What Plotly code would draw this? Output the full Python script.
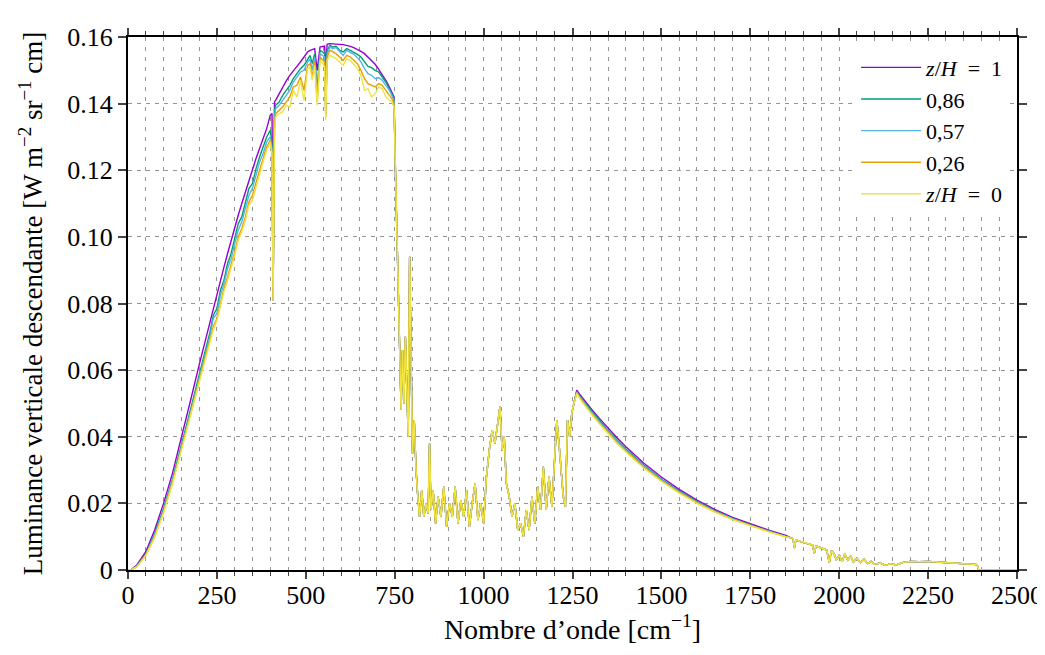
import plotly.graph_objects as go

# ---------------- data ----------------
series_names = ["<i>z</i>/<i>H</i>\u2002=\u20021", "0,86", "0,57", "0,26", "<i>z</i>/<i>H</i>\u2002=\u20020"]
series_colors = ["#9400D3", "#009E73", "#56B4E9", "#E69F00", "#F0E442"]

# region 1 : 0 - 760 cm-1 (series differ)
wn_low = [0, 10, 25, 50, 75, 100, 125, 150, 175, 200, 215, 230, 240, 250, 260, 270, 280, 290,
          300, 310, 320, 330, 340, 350, 360, 370, 380, 390, 400, 405, 408, 412, 415, 425, 435,
          445, 455, 465, 475, 485, 495, 505, 512, 518, 525, 532, 540, 548, 553, 556, 560, 568,
          575, 585, 595, 605, 615, 625, 635, 645, 655, 665, 675, 685, 695, 705, 715, 725, 735,
          742, 748, 752, 756, 760]
low_z100 = [0.0, 0.0002, 0.0015, 0.0055, 0.0120, 0.0200, 0.0290, 0.0395, 0.0505, 0.0615, 0.0680,
            0.0745, 0.0785, 0.0830, 0.0870, 0.0910, 0.0950, 0.0990, 0.1030, 0.1065, 0.1100, 0.1135,
            0.1170, 0.1205, 0.1235, 0.1265, 0.1295, 0.1325, 0.1365, 0.1370, 0.0810, 0.1405, 0.1410,
            0.1430, 0.1450, 0.1468, 0.1485, 0.1500, 0.1512, 0.1525, 0.1540, 0.1555, 0.1560, 0.1562,
            0.1565, 0.1500, 0.1570, 0.1572, 0.1573, 0.1510, 0.1578, 0.1580, 0.1580, 0.1580, 0.1578,
            0.1577, 0.1575, 0.1572, 0.1568, 0.1563, 0.1557, 0.1550, 0.1540, 0.1530, 0.1518, 0.1503,
            0.1488, 0.1470, 0.1450, 0.1435, 0.1420, 0.1200, 0.1000, 0.0800]
low_z086 = [0.0, 0.0001, 0.0012, 0.0048, 0.0108, 0.0185, 0.0272, 0.0372, 0.0478, 0.0585, 0.0648,
            0.0712, 0.0765, 0.0785, 0.0840, 0.0870, 0.0920, 0.0950, 0.0995, 0.1040, 0.1060, 0.1100,
            0.1145, 0.1160, 0.1205, 0.1240, 0.1270, 0.1300, 0.1320, 0.1280, 0.0810, 0.1380, 0.1395,
            0.1405, 0.1425, 0.1440, 0.1455, 0.1475, 0.1490, 0.1505, 0.1515, 0.1535, 0.1545, 0.1520,
            0.1550, 0.1440, 0.1560, 0.1555, 0.1550, 0.1380, 0.1560, 0.1575, 0.1570, 0.1572, 0.1560,
            0.1555, 0.1565, 0.1560, 0.1555, 0.1548, 0.1540, 0.1525, 0.1512, 0.1508, 0.1500, 0.1495,
            0.1480, 0.1465, 0.1445, 0.1430, 0.1415, 0.1200, 0.1000, 0.0800]
low_z057 = [0.0, 0.0001, 0.0011, 0.0046, 0.0104, 0.0180, 0.0267, 0.0366, 0.0470, 0.0575, 0.0640,
            0.0700, 0.0755, 0.0770, 0.0825, 0.0860, 0.0905, 0.0935, 0.0980, 0.1020, 0.1045, 0.1085,
            0.1125, 0.1145, 0.1185, 0.1225, 0.1250, 0.1285, 0.1300, 0.1265, 0.0810, 0.1360, 0.1385,
            0.1395, 0.1410, 0.1425, 0.1440, 0.1465, 0.1480, 0.1495, 0.1500, 0.1525, 0.1535, 0.1500,
            0.1540, 0.1420, 0.1550, 0.1545, 0.1540, 0.1370, 0.1550, 0.1570, 0.1565, 0.1568, 0.1555,
            0.1545, 0.1560, 0.1555, 0.1548, 0.1538, 0.1525, 0.1505, 0.1490, 0.1485, 0.1475, 0.1478,
            0.1470, 0.1455, 0.1440, 0.1425, 0.1410, 0.1200, 0.1000, 0.0800]
low_z026 = [0.0, 0.0001, 0.0010, 0.0044, 0.0100, 0.0175, 0.0262, 0.0360, 0.0464, 0.0568, 0.0630,
            0.0690, 0.0730, 0.0755, 0.0800, 0.0845, 0.0880, 0.0915, 0.0955, 0.1000, 0.1025, 0.1060,
            0.1105, 0.1125, 0.1165, 0.1200, 0.1235, 0.1270, 0.1290, 0.1255, 0.0810, 0.1340, 0.1370,
            0.1380, 0.1390, 0.1405, 0.1420, 0.1450, 0.1455, 0.1480, 0.1440, 0.1515, 0.1520, 0.1480,
            0.1525, 0.1405, 0.1540, 0.1530, 0.1525, 0.1360, 0.1540, 0.1560, 0.1555, 0.1550, 0.1540,
            0.1530, 0.1545, 0.1540, 0.1530, 0.1520, 0.1500, 0.1475, 0.1460, 0.1455, 0.1450, 0.1460,
            0.1455, 0.1440, 0.1425, 0.1415, 0.1400, 0.1200, 0.1000, 0.0800]
low_z000 = [0.0, 0.0001, 0.0010, 0.0043, 0.0098, 0.0172, 0.0258, 0.0356, 0.0460, 0.0562, 0.0625,
            0.0684, 0.0722, 0.0748, 0.0792, 0.0836, 0.0870, 0.0905, 0.0945, 0.0990, 0.1015, 0.1050,
            0.1095, 0.1110, 0.1150, 0.1190, 0.1225, 0.1260, 0.1285, 0.1250, 0.0810, 0.1310, 0.1360,
            0.1370, 0.1375, 0.1395, 0.1390, 0.1440, 0.1420, 0.1470, 0.1410, 0.1505, 0.1510, 0.1470,
            0.1515, 0.1395, 0.1530, 0.1520, 0.1510, 0.1350, 0.1530, 0.1545, 0.1540, 0.1535, 0.1525,
            0.1515, 0.1535, 0.1530, 0.1518, 0.1505, 0.1485, 0.1440, 0.1445, 0.1420, 0.1430, 0.1450,
            0.1445, 0.1420, 0.1410, 0.1405, 0.1390, 0.1200, 0.1000, 0.0800]

# region 2 : atmospheric window, all series superposed
wn_mid = [764, 768, 772, 776, 780, 784, 788, 792, 796, 800, 805, 810, 815, 820, 826, 832, 838, 844,
          848, 852, 858, 865, 872, 880, 888, 896, 904, 912, 920, 928, 936, 944, 952, 960, 968, 976,
          984, 992, 1000, 1008, 1016, 1024, 1032, 1040, 1046, 1052, 1058, 1064, 1072, 1080, 1088,
          1096, 1104, 1112, 1120, 1128, 1136, 1144, 1152, 1160, 1168, 1176, 1184, 1192, 1200, 1206,
          1212, 1218, 1224, 1230, 1236, 1242, 1248, 1254]
mid_all = [0.060, 0.048, 0.066, 0.050, 0.070, 0.055, 0.040, 0.094, 0.060, 0.035, 0.045, 0.030, 0.022,
           0.016, 0.024, 0.016, 0.020, 0.017, 0.038, 0.018, 0.024, 0.014, 0.022, 0.016, 0.025, 0.013,
           0.020, 0.016, 0.025, 0.014, 0.021, 0.016, 0.024, 0.013, 0.020, 0.026, 0.015, 0.020, 0.014,
           0.028, 0.036, 0.042, 0.038, 0.044, 0.049, 0.036, 0.040, 0.026, 0.022, 0.016, 0.020, 0.012,
           0.014, 0.010, 0.018, 0.012, 0.022, 0.014, 0.025, 0.018, 0.031, 0.018, 0.028, 0.019, 0.036,
           0.045, 0.038, 0.030, 0.022, 0.019, 0.045, 0.040, 0.047, 0.050]

# region 3 : 1262 - 1850 cm-1 (series differ slightly)
wn_high = [1262, 1270, 1280, 1290, 1300, 1325, 1350, 1375, 1400, 1450, 1500, 1550, 1600, 1650,
           1700, 1750, 1800, 1850]
high_z100 = [0.0540, 0.0528, 0.0514, 0.0500, 0.0487, 0.0456, 0.0426, 0.0397, 0.0370, 0.0321,
             0.0279, 0.0242, 0.0210, 0.0182, 0.0158, 0.0138, 0.0120, 0.0104]
high_z086 = [0.0536, 0.0522, 0.0509, 0.0494, 0.0481, 0.0449, 0.0419, 0.0390, 0.0363, 0.0315,
             0.0273, 0.0237, 0.0206, 0.0178, 0.0155, 0.0135, 0.0118, 0.0102]
high_z057 = [0.0534, 0.0520, 0.0506, 0.0491, 0.0478, 0.0446, 0.0416, 0.0387, 0.0360, 0.0312,
             0.0271, 0.0235, 0.0204, 0.0177, 0.0154, 0.0134, 0.0117, 0.0101]
high_z026 = [0.0532, 0.0518, 0.0503, 0.0488, 0.0474, 0.0442, 0.0412, 0.0383, 0.0357, 0.0309,
             0.0268, 0.0233, 0.0202, 0.0175, 0.0152, 0.0133, 0.0116, 0.0100]
high_z000 = [0.0530, 0.0515, 0.0500, 0.0486, 0.0472, 0.0440, 0.0409, 0.0380, 0.0354, 0.0306,
             0.0266, 0.0231, 0.0200, 0.0174, 0.0151, 0.0132, 0.0115, 0.0099]

# region 4 : tail, all series superposed
wn_tail = [1860, 1870, 1874, 1878, 1900, 1925, 1930, 1935, 1950, 1965, 1972, 1978, 1985, 1992,
           2000, 2008, 2016, 2024, 2032, 2040, 2050, 2060, 2070, 2080, 2090, 2100, 2115, 2130,
           2145, 2160, 2180, 2200, 2225, 2250, 2275, 2300, 2330, 2360, 2388, 2392, 2450, 2500]
tail_all = [0.0098, 0.0094, 0.0066, 0.0090, 0.0082, 0.0075, 0.0050, 0.0072, 0.0066, 0.0060,
            0.0022, 0.0058, 0.0050, 0.0030, 0.0045, 0.0025, 0.0048, 0.0030, 0.0042, 0.0024,
            0.0035, 0.0022, 0.0032, 0.0019, 0.0026, 0.0017, 0.0021, 0.0014, 0.0019, 0.0015,
            0.0023, 0.0026, 0.0025, 0.0026, 0.0024, 0.0022, 0.0020, 0.0018, 0.0016, 0.0,
            0.0, 0.0]

low_values = [low_z100, low_z086, low_z057, low_z026, low_z000]
high_values = [high_z100, high_z086, high_z057, high_z026, high_z000]

y_tickvals = [0, 0.02, 0.04, 0.06, 0.08, 0.10, 0.12, 0.14, 0.16]
y_ticktext = ["0", "0.02", "0.04", "0.06", "0.08", "0.10", "0.12", "0.14", "0.16"]
x_tickvals = [0, 250, 500, 750, 1000, 1250, 1500, 1750, 2000, 2250, 2500]

# ---------------- figure ----------------
FONT = "Liberation Serif"
fig = go.Figure()
x_all = wn_low + wn_mid + wn_high + wn_tail
for name, color, lv, hv in zip(series_names, series_colors, low_values, high_values):
    fig.add_trace(go.Scatter(
        x=x_all, y=lv + mid_all + hv + tail_all, mode="lines", name=name,
        line=dict(color=color, width=1.4)))

# the page body has an 8 px margin: the figure is sized so that it fills the 1045x655 window
grid_col = "#959595"
fig.update_layout(
    width=1037, height=647,
    margin=dict(l=120, r=28, t=29, b=85),
    paper_bgcolor="white", plot_bgcolor="white",
    font=dict(family=FONT, size=26, color="black"),
    showlegend=True,
    legend=dict(x=0.99, y=0.982, xanchor="right", yanchor="top",
                bgcolor="white", borderwidth=0, font=dict(size=22),
                itemwidth=60, tracegroupgap=0),
    xaxis=dict(range=[0, 2500], tickvals=x_tickvals, ticks="outside", ticklen=7, tickwidth=1.5,
               showline=True, linewidth=2, linecolor="black", mirror="ticks",
               showgrid=True, gridcolor=grid_col, griddash="4px,6px", gridwidth=1,
               zeroline=False, automargin=False, ticklabelstandoff=-6,
               minor=dict(dtick=50, tick0=0, ticks="outside", ticklen=4, tickwidth=1,
                          showgrid=True, gridcolor=grid_col, griddash="4px,6px", gridwidth=1),
               title=dict(text="Nombre d’onde [cm<sup>−1</sup>]", standoff=0,
                          font=dict(size=28)),
               tickfont=dict(size=26)),
    yaxis=dict(range=[0, 0.16], tickvals=y_tickvals, ticktext=y_ticktext, ticks="outside",
               ticklen=8, tickwidth=1.5,
               showline=True, linewidth=2, linecolor="black", mirror="ticks",
               showgrid=True, gridcolor=grid_col, griddash="4px,5px", gridwidth=1,
               zeroline=False, automargin=False,
               title=dict(text="Luminance verticale descendante [W m<sup>−2</sup> sr<sup>−1</sup> cm]",
                          standoff=17, font=dict(size=27)),
               tickfont=dict(size=26)),
)

fig.add_annotation(
    xref="paper", yref="paper", x=(474 - 128) / 889, y=1 + (37 - 7) / 533,
    xanchor="left", yanchor="bottom", showarrow=False,
    text="<span style='color:#e02020'>(b)</span> Ciel nuageux",
    font=dict(family=FONT, size=26, color="black"))

fig.write_html("out.html")
